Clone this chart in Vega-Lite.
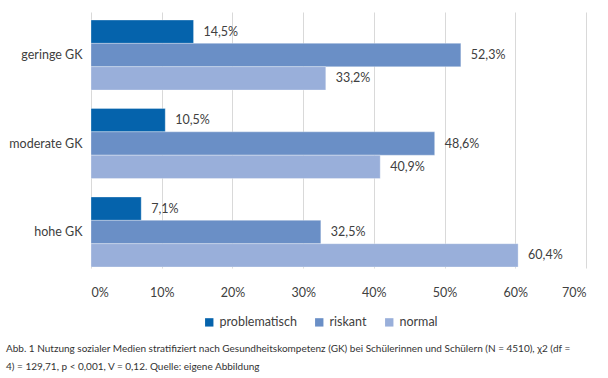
{
  "$schema": "https://vega.github.io/schema/vega-lite/v6.json",
  "width": 495,
  "height": 256,
  "autosize": {"type": "none"},
  "padding": {"left": 91, "top": 12, "right": 22, "bottom": 110},
  "background": "white",
  "config": {
    "font": "Lato",
    "view": {"stroke": null},
    "locale": {"number": {"decimal": ",", "thousands": ".", "grouping": [3], "currency": ["", " €"]}}
  },
  "title": {
    "text": ["Abb. 1 Nutzung sozialer Medien stratifiziert nach Gesundheitskompetenz (GK) bei Schülerinnen und Schülern (N = 4510), χ2 (df =", "4) = 129,71, p < 0,001, V = 0,12. Quelle: eigene Abbildung"],
    "orient": "bottom",
    "anchor": "start",
    "frame": "group",
    "dx": -85,
    "offset": 15,
    "fontSize": 10,
    "fontWeight": "normal",
    "color": "#333333",
    "lineHeight": 18,
    "baseline": "top"
  },
  "data": {
    "values": [
      {"gruppe": "geringe GK", "kategorie": "problematisch", "anteil": 0.145},
      {"gruppe": "geringe GK", "kategorie": "riskant", "anteil": 0.523},
      {"gruppe": "geringe GK", "kategorie": "normal", "anteil": 0.332},
      {"gruppe": "moderate GK", "kategorie": "problematisch", "anteil": 0.105},
      {"gruppe": "moderate GK", "kategorie": "riskant", "anteil": 0.486},
      {"gruppe": "moderate GK", "kategorie": "normal", "anteil": 0.409},
      {"gruppe": "hohe GK", "kategorie": "problematisch", "anteil": 0.071},
      {"gruppe": "hohe GK", "kategorie": "riskant", "anteil": 0.325},
      {"gruppe": "hohe GK", "kategorie": "normal", "anteil": 0.604}
    ]
  },
  "encoding": {
    "y": {
      "field": "gruppe",
      "type": "nominal",
      "sort": ["geringe GK", "moderate GK", "hohe GK"],
      "scale": {"paddingInner": 0.209, "paddingOuter": 0.051, "align": 0.89},
      "axis": {
        "title": null,
        "domain": false,
        "ticks": false,
        "labelFontSize": 12.5,
        "labelColor": "#404040",
        "labelPadding": 9
      }
    },
    "yOffset": {
      "field": "kategorie",
      "type": "nominal",
      "sort": ["problematisch", "riskant", "normal"],
      "scale": {"paddingInner": 0, "paddingOuter": 0}
    },
    "x": {
      "field": "anteil",
      "type": "quantitative",
      "scale": {"domain": [0, 0.7], "nice": false},
      "axis": {
        "title": null,
        "format": ".0%",
        "values": [0, 0.1, 0.2, 0.3, 0.4, 0.5, 0.6, 0.7],
        "domain": false,
        "ticks": false,
        "grid": true,
        "gridColor": "#D9D9D9",
        "gridWidth": 1,
        "labelFontSize": 12.5,
        "labelColor": "#404040",
        "labelPadding": 18
      }
    }
  },
  "layer": [
    {
      "mark": {"type": "bar", "stroke": "white", "strokeWidth": 0.5, "strokeOpacity": 0.6},
      "encoding": {
        "color": {
          "field": "kategorie",
          "type": "nominal",
          "sort": ["problematisch", "riskant", "normal"],
          "scale": {"domain": ["problematisch", "riskant", "normal"], "range": ["#0563AC", "#6A8FC6", "#99AFDA"]},
          "legend": {
            "title": null,
            "orient": "none",
            "direction": "horizontal",
            "legendX": 112,
            "legendY": 304,
            "symbolType": "square",
            "symbolSize": 70,
            "symbolStrokeWidth": 0,
            "labelFontSize": 12.5,
            "labelColor": "#404040",
            "columnPadding": 16,
            "labelOffset": 4
          }
        }
      }
    },
    {
      "mark": {"type": "text", "align": "left", "dx": 10, "fontSize": 12.5, "color": "#404040"},
      "encoding": {
        "text": {"field": "anteil", "type": "quantitative", "format": ".1%"}
      }
    }
  ]
}
